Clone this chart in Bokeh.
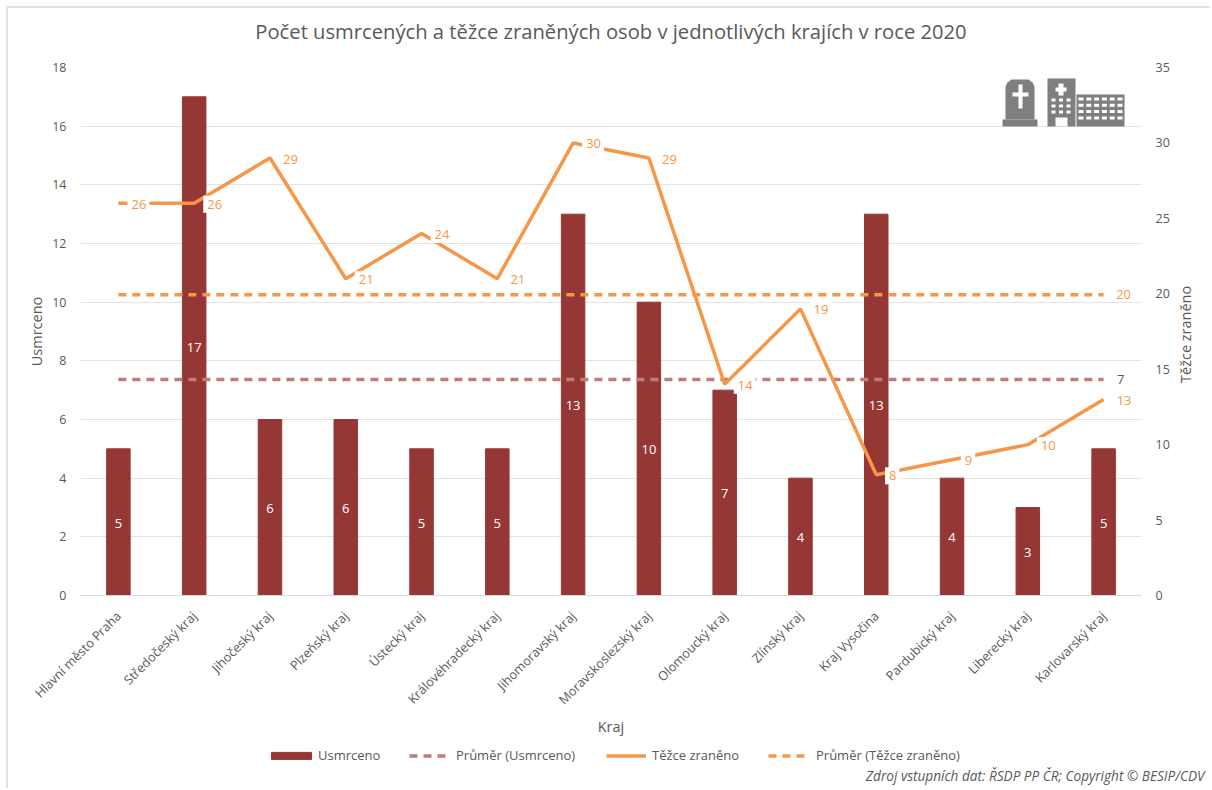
from math import pi
from bokeh.plotting import figure
from bokeh.layouts import column, row
from bokeh.embed import file_html
from bokeh.resources import INLINE
from bokeh.models import (ColumnDataSource, LinearAxis, Range1d, FactorRange, FixedTicker, Legend, LegendItem,
                          Label, Title, BoxAnnotation, PolyAnnotation)
from bokeh.core.properties import value

kraje = ["Hlavní město Praha", "Středočeský kraj", "Jihočeský kraj", "Plzeňský kraj", "Ústecký kraj",
         "Královéhradecký kraj", "Jihomoravský kraj", "Moravskoslezský kraj", "Olomoucký kraj", "Zlínský kraj",
         "Kraj Vysočina", "Pardubický kraj", "Liberecký kraj", "Karlovarský kraj"]
usmrceno = [5, 17, 6, 6, 5, 5, 13, 10, 7, 4, 13, 4, 3, 5]
tezce = [26, 26, 29, 21, 24, 21, 30, 29, 14, 19, 8, 9, 10, 13]
prumer_usmrceno = [7.36] * 14
prumer_tezce = [19.93] * 14
left_ticks = [0, 2, 4, 6, 8, 10, 12, 14, 16, 18]
right_ticks = [0, 5, 10, 15, 20, 25, 30, 35]

FONT = "Open Sans"
TXT = "#595959"
BAR = "#953735"
PINK = "#C27B7B"
ORANGE = "#F79646"
GREY = "#7F7F7F"

M = 6        # chart frame offset on the page
BORDER = 2
SPLIT = 744  # page y where the legend strip begins
RIGHT = 1172 # page x where the strip with the right axis title begins
W = 1212 - M - BORDER

p = figure(width=RIGHT - M - BORDER, height=SPLIT - M - BORDER,
           x_range=FactorRange(factors=kraje, range_padding=0, factor_padding=0),
           y_range=Range1d(0, 18), output_backend="svg", toolbar_location=None, frame_align=False,
           min_border_left=80 - M - BORDER, min_border_right=RIGHT - 1142, min_border_top=67 - M - BORDER,
           min_border_bottom=SPLIT - 595, margin=(M, 0, 0, M),
           styles={"border-left": f"{BORDER}px solid #E3E3E3", "border-top": f"{BORDER}px solid #E3E3E3"})
p.outline_line_color = None
p.border_fill_color = None
p.background_fill_color = None
p.extra_y_ranges = {"r": Range1d(0, 35)}

src = ColumnDataSource(dict(k=kraje, u=usmrceno, t=tezce, pu=prumer_usmrceno, pt=prumer_tezce,
                            ul=[str(v) for v in usmrceno], tl=[str(v) for v in tezce],
                            umid=[v / 2 for v in usmrceno],
                            off=[20 if v > 9 else 16 for v in tezce]))

p.vbar(x="k", top="u", width=0.31, color=BAR, source=src)
p.line(x="k", y="pu", line_color=PINK, line_width=3.5, line_dash="8 6", source=src)
p.line(x="k", y="t", line_color=ORANGE, line_width=3.5, y_range_name="r", source=src)
p.line(x="k", y="pt", line_color=ORANGE, line_width=3.5, line_dash="8 6", y_range_name="r", source=src)

# data labels
p.text(x="k", y="umid", text="ul", text_color="white", text_font=value(FONT), text_font_size="13px",
       text_align="center", text_baseline="middle", source=src, y_offset=1)
p.text(x="k", y="t", text="tl", text_color=ORANGE, text_font=value(FONT), text_font_size="13px",
       text_align="center", text_baseline="middle", x_offset="off", y_offset=1, y_range_name="r", source=src,
       background_fill_color="white", padding=(4, 3, 4, 4))
last_k = [kraje[-1]]
p.text(x=last_k, y=[prumer_tezce[-1]], text=["20"], text_color=ORANGE, text_font=value(FONT), text_font_size="13px",
       text_align="center", text_baseline="middle", x_offset=20, y_range_name="r",
       background_fill_color="white", padding=(3, 3, 2, 2))
p.text(x=last_k, y=[prumer_usmrceno[-1]], text=["7"], text_color=TXT, text_font=value(FONT), text_font_size="13px",
       text_align="center", text_baseline="middle", x_offset=17,
       background_fill_color="white", padding=(3, 3, 2, 2))

# axes
ax = p.xaxis[0]
ax.axis_label = "Kraj"
ax.axis_label_text_font = FONT
ax.axis_label_text_font_size = "14.5px"
ax.axis_label_text_font_style = "normal"
ax.axis_label_text_color = TXT
ax.axis_label_standoff = 0
ax.major_label_orientation = pi / 4
ax.major_label_text_font = FONT
ax.major_label_text_font_size = "12.7px"
ax.major_label_text_color = TXT
ax.major_label_standoff = 18
ax.axis_line_color = "#D9D9D9"
ax.major_tick_line_color = None
ax.minor_tick_line_color = None
ax.major_tick_out = 0
p.xgrid.grid_line_color = None

ay = p.yaxis[0]
ay.ticker = FixedTicker(ticks=left_ticks)
ay.axis_label = "Usmrceno"
ay.axis_label_standoff = 3
ay2 = LinearAxis(y_range_name="r", ticker=FixedTicker(ticks=right_ticks))
p.add_layout(ay2, "right")
for a in (ay, ay2):
    a.axis_line_color = None
    a.major_tick_line_color = None
    a.minor_tick_line_color = None
    a.major_tick_out = 0
    a.major_tick_in = 0
    a.major_label_text_font = FONT
    a.major_label_text_font_size = "12.5px"
    a.major_label_text_color = TXT
    a.axis_label_text_font = FONT
    a.axis_label_text_font_size = "14.5px"
    a.axis_label_text_font_style = "normal"
    a.axis_label_text_color = TXT
    a.major_label_standoff = 14
p.ygrid.grid_line_color = "#E3E3E3"
p.ygrid.ticker = FixedTicker(ticks=left_ticks)

# title, lifted off the frame by an empty spacer title
p.add_layout(Title(text=" ", text_font_size="1px", standoff=20), "above")
p.title.text = "Počet usmrcených a těžce zraněných osob v jednotlivých krajích v roce 2020"
p.title.text_font = FONT
p.title.text_font_size = "20.2px"
p.title.text_font_style = "normal"
p.title.text_color = TXT
p.title.align = "center"
p.title.standoff = 0

# icon: page pixels converted to frame-relative screen units
FRAME_LEFT, FRAME_BOTTOM = 80, 595
def box(x0, y0, x1, y1, c):
    p.add_layout(BoxAnnotation(left=x0 - FRAME_LEFT, right=x1 - FRAME_LEFT, top=FRAME_BOTTOM - y0, bottom=FRAME_BOTTOM - y1,
                               left_units="screen", right_units="screen", top_units="screen", bottom_units="screen",
                               fill_color=c, fill_alpha=1, line_color=None, level="overlay"))

box(1002, 119, 1037, 126, GREY)
p.add_layout(PolyAnnotation(xs=[x - FRAME_LEFT for x in [1005, 1005, 1007, 1011, 1028, 1032, 1034, 1034]],
                            ys=[FRAME_BOTTOM - y for y in [119, 86, 82, 79, 79, 82, 86, 119]],
                            xs_units="screen", ys_units="screen", fill_color=GREY, fill_alpha=1, line_color=None, level="overlay"))
box(1018, 84, 1022, 108, "white")
box(1012, 92, 1028, 96, "white")
box(1047, 78, 1075, 126, GREY)
box(1076, 94, 1124, 126, GREY)
box(1058, 83, 1063, 95, "white")
box(1055, 87, 1066, 91, "white")
for r in range(3):
    for c in range(3):
        box(1051 + c * 7.5, 98 + r * 6, 1055 + c * 7.5, 101 + r * 6, "white")
box(1055, 117, 1067, 126, "white")
for r in range(4):
    for c in range(6):
        box(1078 + c * 7.8, 97 + r * 6.3, 1083 + c * 7.8, 100 + r * 6.3, "white")

# strip at the right holding the right axis title, reading upward
rf = figure(width=1212 - RIGHT, height=SPLIT - M - BORDER, x_range=Range1d(0, 1), y_range=Range1d(0, 1),
            output_backend="svg", toolbar_location=None, frame_align=False, min_border=0, margin=(M, 0, 0, 0),
            styles={"border-top": f"{BORDER}px solid #E3E3E3"})
rf.axis.visible = False
rf.grid.visible = False
rf.outline_line_color = None
rf.border_fill_color = None
rf.add_layout(Label(x=1187 - RIGHT, y=SPLIT - 332, x_units="screen", y_units="screen", text="Těžce  zraněno", angle=pi / 2,
                    text_font=FONT, text_font_size="14.5px", text_color=TXT, text_align="center", text_baseline="middle"))

# legend strip with the source note
strip_h = 790 - SPLIT
lf = figure(width=W, height=strip_h, x_range=Range1d(0, 1), y_range=Range1d(0, 1), output_backend="svg",
            toolbar_location=None, frame_align=False, min_border=0, margin=(0, 0, 0, M),
            styles={"border-left": f"{BORDER}px solid #E3E3E3"})
lf.axis.visible = False
lf.grid.visible = False
lf.outline_line_color = None
lf.border_fill_color = None
swatch = ColumnDataSource(dict(x=[-1], y=[-1]))  # outside the ranges: only the legend shows these
g1 = lf.vbar(x="x", top="y", width=0.1, color=BAR, source=swatch)
g2 = lf.line(x="x", y="y", line_color=PINK, line_width=3.5, line_dash="8 6", source=swatch)
g3 = lf.line(x="x", y="y", line_color=ORANGE, line_width=3.5, source=swatch)
g4 = lf.line(x="x", y="y", line_color=ORANGE, line_width=3.5, line_dash="8 6", source=swatch)
for label, rend, page_x, gw, gap in [("Usmrceno", g1, 266, 50, 2),
                                     ("Průměr (Usmrceno)", g2, 409, 40, 7),
                                     ("Těžce zraněno", g3, 606, 40, 6),
                                     ("Průměr (Těžce zraněno)", g4, 768, 40, 8)]:
    lf.add_layout(Legend(items=[LegendItem(label=label, renderers=[rend])],
                         orientation="horizontal", location=(page_x - M - BORDER, strip_h - 22), glyph_width=gw, glyph_height=9,
                         label_standoff=gap, padding=0, margin=0, border_line_color=None, background_fill_color=None,
                         label_text_font=FONT, label_text_font_size="13px", label_text_color=TXT), "center")
lf.add_layout(Label(x=1204 - M - BORDER, y=790 - 777, x_units="screen", y_units="screen",
                    text="Zdroj vstupních dat: ŘSDP PP ČR; Copyright © BESIP/CDV",
                    text_font=FONT, text_font_size="13.6px", text_font_style="italic", text_color=TXT,
                    text_align="right", text_baseline="middle"))

page = column(row(p, rf, spacing=0), lf, spacing=0)
open("out.html", "w").write(file_html(page, INLINE))
